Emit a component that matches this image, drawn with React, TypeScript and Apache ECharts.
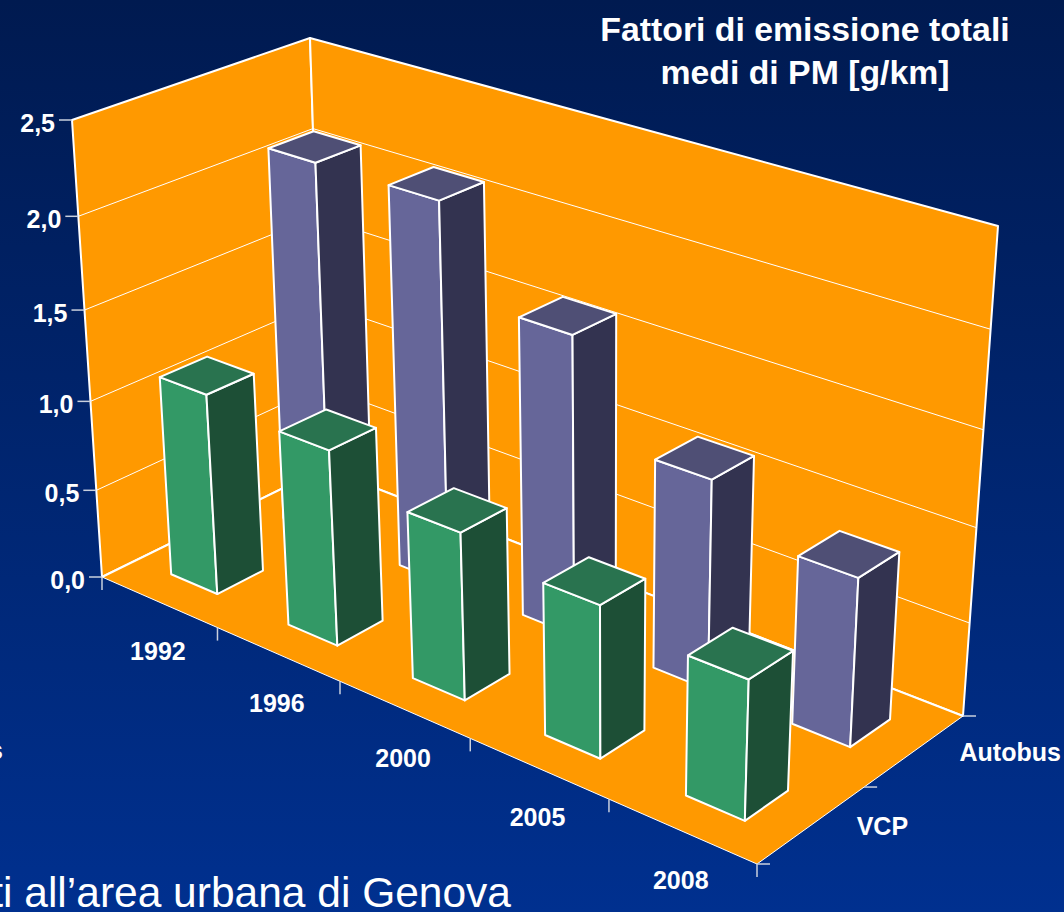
import React, { useEffect, useRef } from "react";
import * as echarts from "echarts";

const W = 1064;
const H = 912;

const years = ["1992", "1996", "2000", "2005", "2008"];
const depthNames = ["VCP", "Autobus"];
const vcpValues = [1.12, 1.07, 0.9, 0.805, 0.725];
const autobusValues = [2.11, 2.11, 1.63, 1.125, 0.89];
const valueTicks = [0, 0.5, 1, 1.5, 2, 2.5];
const valueTickLabels = ["0,0", "0,5", "1,0", "1,5", "2,0", "2,5"];
const titleLines = ["Fattori di emissione totali", "medi di PM [g/km]"];
const captionText = "ti all\u2019area urbana di Genova";
const clippedLabel = "s";

const FONT = '"Liberation Sans", Arial, sans-serif';
const ORANGE = "#FF9900";
const VCP_COLORS = { front: "#339966", side: "#1D4F36", top: "#29734F" };
const BUS_COLORS = { front: "#666699", side: "#333350", top: "#4F4F75" };

type P = [number, number];

function quad(p0: P, p1: P, p2: P, p3: P) {
  const dx1 = p1[0] - p2[0], dx2 = p3[0] - p2[0], sx = p0[0] - p1[0] + p2[0] - p3[0];
  const dy1 = p1[1] - p2[1], dy2 = p3[1] - p2[1], sy = p0[1] - p1[1] + p2[1] - p3[1];
  const den = dx1 * dy2 - dx2 * dy1;
  const g = (sx * dy2 - dx2 * sy) / den;
  const h = (dx1 * sy - sx * dy1) / den;
  const a = p1[0] - p0[0] + g * p1[0], b = p3[0] - p0[0] + h * p3[0], c = p0[0];
  const d = p1[1] - p0[1] + g * p1[1], e = p3[1] - p0[1] + h * p3[1], f = p0[1];
  return (u: number, v: number): P => {
    const w = g * u + h * v + 1;
    return [(a * u + b * v + c) / w, (d * u + e * v + f) / w];
  };
}

// Box corners of the 3D scene: u runs along the years, v runs into the depth, z runs upward.
const floorMap = quad([102, 577], [757, 864], [963, 716], [324, 468]);
const ceilMap = quad([72, 120], [773, 345], [998, 226], [310, 38]);
const HEIGHT_K = 1.068;

function project(u: number, v: number, z: number): P {
  const a = floorMap(u, v);
  const b = ceilMap(u, v);
  const t = z / (z + (1 - z) * HEIGHT_K);
  return [a[0] + (b[0] - a[0]) * t, a[1] + (b[1] - a[1]) * t];
}

const BAR_FRACTION = 0.4;

function barRenderer(depthIndex: number, colors: { front: string; side: string; top: string }) {
  return (_params: any, api: any) => {
    const [px, py] = api.coord([api.value(0), api.value(1)]);
    const slot = api.size([1, 0])[0] / W;
    const u = px / W;
    const z = 1 - py / H;
    const vSlot = 1 / depthNames.length;
    const v = (depthIndex + 0.5) * vSlot;
    const u0 = u - (slot * BAR_FRACTION) / 2, u1 = u + (slot * BAR_FRACTION) / 2;
    const v0 = v - (vSlot * BAR_FRACTION) / 2, v1 = v + (vSlot * BAR_FRACTION) / 2;
    const edge = { stroke: "#FFFFFF", lineWidth: 2, lineJoin: "round" };
    return {
      type: "group",
      children: [
        {
          type: "polygon",
          shape: { points: [project(u0, v0, 0), project(u1, v0, 0), project(u1, v0, z), project(u0, v0, z)] },
          style: { fill: colors.front, ...edge },
        },
        {
          type: "polygon",
          shape: { points: [project(u1, v0, 0), project(u1, v1, 0), project(u1, v1, z), project(u1, v0, z)] },
          style: { fill: colors.side, ...edge },
        },
        {
          type: "polygon",
          shape: { points: [project(u0, v0, z), project(u1, v0, z), project(u1, v1, z), project(u0, v1, z)] },
          style: { fill: colors.top, ...edge },
        },
      ],
    };
  };
}

function label(text: string, x: number, y: number, align: string, size = 25, weight: any = "bold") {
  return {
    type: "text",
    x,
    y,
    style: {
      text,
      fill: "#FFFFFF",
      fontFamily: FONT,
      fontSize: size,
      fontWeight: weight,
      textAlign: align,
      textVerticalAlign: "middle",
    },
  };
}

function seg(a: P, b: P, stroke: string, lineWidth: number) {
  return { type: "line", shape: { x1: a[0], y1: a[1], x2: b[0], y2: b[1] }, style: { stroke, lineWidth } };
}

const TICK = "#C9D0DE";

function renderWalls() {
  const poly = (points: P[]) => ({
    type: "polygon",
    shape: { points },
    style: { fill: ORANGE, stroke: "#FFFFFF", lineWidth: 2, lineJoin: "round" },
  });
  return {
    type: "group",
    children: [
      poly([project(0, 0, 0), project(0, 1, 0), project(0, 1, 1), project(0, 0, 1)]),
      poly([project(0, 1, 0), project(1, 1, 0), project(1, 1, 1), project(0, 1, 1)]),
      {
        type: "polygon",
        shape: { points: [project(0, 0, 0), project(1, 0, 0), project(1, 1, 0), project(0, 1, 0)] },
        style: { fill: ORANGE, stroke: "#FFFFFF", lineWidth: 1 },
      },
      seg(project(0, 0, 0), project(0, 1, 0), "#FFFFFF", 2),
      seg(project(0, 1, 0), project(1, 1, 0), "#FFFFFF", 2),
    ],
  };
}

function renderValueTick(params: any, api: any) {
  const py = api.coord([0, api.value(1)])[1];
  const z = 1 - py / H;
  const left = project(0, 0, z);
  const corner = project(0, 1, z);
  const right = project(1, 1, z);
  const children: any[] = [
    seg([left[0] - 13, left[1]], left, TICK, 1.5),
    label(valueTickLabels[params.dataIndex], left[0] - 17, left[1] + 3, "right"),
  ];
  if (z > 0 && z < 1) {
    children.push(seg(left, corner, "#FFFFFF", 1), seg(corner, right, "#FFFFFF", 1));
  }
  return { type: "group", children };
}

function renderYearAxis(params: any, api: any) {
  const px = api.coord([api.value(0), 0])[0];
  const slot = api.size([1, 0])[0] / W;
  const u = px / W;
  const mid = project(u, 0, 0);
  const end = project(u + slot / 2, 0, 0);
  const children: any[] = [
    label(years[params.dataIndex], mid[0] - 1, mid[1] + 49, "center"),
    seg(end, [end[0], end[1] + 13], TICK, 1.5),
  ];
  if (params.dataIndex === 0) {
    const start = project(0, 0, 0);
    children.push(seg(start, [start[0], start[1] + 13], TICK, 1.5));
  }
  return { type: "group", children };
}

function renderDepthAxis(params: any, api: any) {
  const i = api.value(0);
  const n = depthNames.length;
  const mid = project(1, (i + 0.5) / n, 0);
  const end = project(1, (i + 1) / n, 0);
  const children: any[] = [
    label(depthNames[params.dataIndex], mid[0] + 45, mid[1] + 1, "left"),
    seg(end, [end[0] + 13, end[1]], TICK, 1.5),
  ];
  if (i === 0) {
    const start = project(1, 0, 0);
    children.push(seg(start, [start[0] + 13, start[1]], TICK, 1.5));
  }
  return { type: "group", children };
}

function renderExtras() {
  return {
    type: "group",
    children: [
      label(clippedLabel, 3, 750, "right"),
      {
        type: "text",
        x: 511,
        y: 914,
        style: {
          text: captionText,
          fill: "#FFFFFF",
          fontFamily: FONT,
          fontSize: 42.5,
          textAlign: "right",
          textVerticalAlign: "bottom",
        },
      },
    ],
  };
}

export default function App() {
  const ref = useRef<HTMLDivElement>(null);
  useEffect(() => {
    document.body.style.margin = "0";
    document.body.style.overflow = "hidden";
    const chart = echarts.init(ref.current!, undefined, { renderer: "svg" });
    const base = { type: "custom", coordinateSystem: "cartesian2d", clip: false, silent: true };
    chart.setOption({
      animation: false,
      backgroundColor: new echarts.graphic.LinearGradient(0, 0, 0, 1, [
        { offset: 0, color: "#001A50" },
        { offset: 1, color: "#00308F" },
      ]),
      title: {
        text: titleLines.join("\n"),
        left: 805,
        top: 2,
        textAlign: "center",
        textStyle: { color: "#FFFFFF", fontFamily: FONT, fontSize: 33.8, fontWeight: "bold", lineHeight: 43 },
        padding: [5, 5, 5, 0],
      },
      grid: { left: 0, top: 0, width: W, height: H, show: false },
      xAxis: { type: "category", data: years, show: false },
      yAxis: { type: "value", min: 0, max: 2.5, interval: 0.5, show: false },
      series: [
        { ...base, name: "walls", data: [[0, 0]], renderItem: renderWalls, z: 1 },
        {
          ...base,
          name: "ticks",
          data: valueTicks.map((t) => [0, t]),
          renderItem: renderValueTick,
          encode: { x: 0, y: 1 },
          z: 2,
        },
        {
          ...base,
          name: "years",
          data: years.map((_, i) => [i, 0]),
          renderItem: renderYearAxis,
          encode: { x: 0, y: 1 },
          z: 2,
        },
        {
          ...base,
          name: "depth",
          data: depthNames.map((_, i) => [i, 0]),
          renderItem: renderDepthAxis,
          encode: { x: 0, y: 1 },
          z: 2,
        },
        {
          ...base,
          name: depthNames[1],
          data: autobusValues.map((v, i) => [i, v]),
          renderItem: barRenderer(1, BUS_COLORS),
          encode: { x: 0, y: 1 },
          z: 3,
        },
        {
          ...base,
          name: depthNames[0],
          data: vcpValues.map((v, i) => [i, v]),
          renderItem: barRenderer(0, VCP_COLORS),
          encode: { x: 0, y: 1 },
          z: 4,
        },
        { ...base, name: "extras", data: [[0, 0]], renderItem: renderExtras, z: 5 },
      ],
    });
    return () => chart.dispose();
  }, []);
  return <div ref={ref} style={{ width: W, height: H }} />;
}
